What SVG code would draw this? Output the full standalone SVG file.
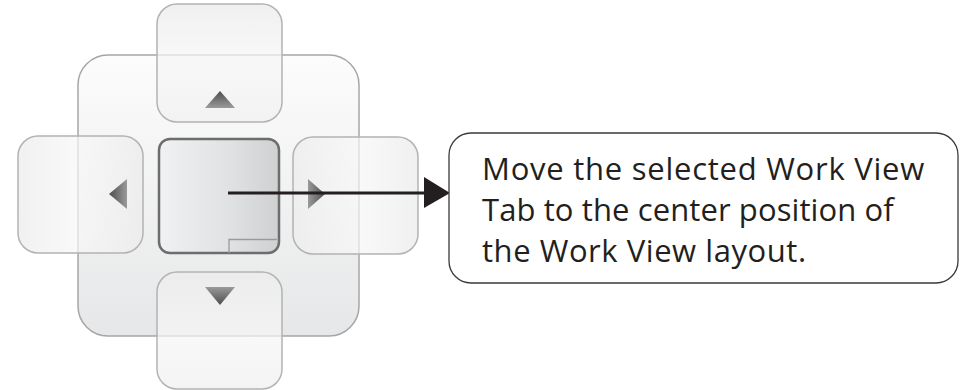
<svg xmlns="http://www.w3.org/2000/svg" width="962" height="390" viewBox="0 0 962 390">
<defs>
<linearGradient id="gBase" x1="0" y1="0" x2="0" y2="1">
<stop offset="0" stop-color="#fcfcfc"/><stop offset="1" stop-color="#e6e7e8"/>
</linearGradient>
<linearGradient id="gTileV" x1="0" y1="0" x2="0" y2="1">
<stop offset="0" stop-color="#ececec" stop-opacity="0.8"/><stop offset="0.5" stop-color="#f6f6f6" stop-opacity="0.7"/><stop offset="1" stop-color="#f1f1f1" stop-opacity="0.8"/>
</linearGradient>
<linearGradient id="gTileH" x1="0" y1="0" x2="1" y2="0">
<stop offset="0" stop-color="#ededed" stop-opacity="0.8"/><stop offset="0.5" stop-color="#f7f7f7" stop-opacity="0.7"/><stop offset="1" stop-color="#ececec" stop-opacity="0.8"/>
</linearGradient>
<linearGradient id="gCenter" x1="0" y1="0" x2="1" y2="0">
<stop offset="0" stop-color="#f0f1f2"/><stop offset="0.6" stop-color="#e0e1e3"/><stop offset="1" stop-color="#cfd0d2"/>
</linearGradient>
<linearGradient id="gTriV" x1="0" y1="0" x2="0" y2="1">
<stop offset="0" stop-color="#4d4d4d"/><stop offset="1" stop-color="#9a9a9a"/>
</linearGradient>
<linearGradient id="gTriVd" x1="0" y1="1" x2="0" y2="0">
<stop offset="0" stop-color="#4d4d4d"/><stop offset="1" stop-color="#9a9a9a"/>
</linearGradient>
<linearGradient id="gTriH" x1="0" y1="0" x2="1" y2="0">
<stop offset="0" stop-color="#4d4d4d"/><stop offset="1" stop-color="#9a9a9a"/>
</linearGradient>
<linearGradient id="gTriHr" x1="1" y1="0" x2="0" y2="0">
<stop offset="0" stop-color="#4d4d4d"/><stop offset="1" stop-color="#9a9a9a"/>
</linearGradient>
</defs>
<style>
.tile{stroke:#b3b3b3;stroke-width:1.5}
.label{font-family:"Open Sans","Liberation Sans",Arial,sans-serif;font-size:31px;fill:#231f20}
</style>
<g id="base">
<rect x="78" y="55" width="281" height="281" rx="30" fill="url(#gBase)" stroke="#a6a6a6" stroke-width="1.5"/>
</g>
<g id="tile-top">
<rect class="tile" x="157" y="4" width="125" height="118" rx="20" fill="url(#gTileV)"/>
<polygon points="220,91 235,108 205,108" fill="url(#gTriV)"/>
</g>
<g id="tile-bottom">
<rect class="tile" x="157" y="272" width="125" height="117" rx="20" fill="url(#gTileV)"/>
<polygon points="205,287 235,287 220,305" fill="url(#gTriVd)"/>
</g>
<g id="tile-left">
<rect class="tile" x="18" y="136" width="125" height="117" rx="20" fill="url(#gTileH)"/>
<polygon points="109,194 127,179 127,209" fill="url(#gTriH)"/>
</g>
<g id="tile-right">
<rect class="tile" x="293" y="137" width="125" height="117" rx="20" fill="url(#gTileH)"/>
<polygon points="325,194 308,179 308,209" fill="url(#gTriHr)"/>
</g>
<g id="center">
<rect x="159" y="139" width="120" height="114" rx="11" fill="url(#gCenter)" stroke="#6d6d6d" stroke-width="2.5"/>
<path d="M229,253 V239.5 H277" fill="none" stroke="#9a9a9a" stroke-width="1.3"/>
</g>
<g id="connectors">
<line x1="228" y1="193" x2="426" y2="193" stroke="#231f20" stroke-width="3"/>
<polygon points="424,177 450,193 424,208" fill="#231f20"/>
</g>
<g id="callout">
<rect x="449" y="133" width="509" height="150" rx="22" fill="#ffffff" stroke="#3a3a3a" stroke-width="1.3"/>
<text class="label" x="482" y="180" letter-spacing="0.75">Move the selected Work View</text>
<text class="label" x="482" y="221" letter-spacing="0.1">Tab to the center position of</text>
<text class="label" x="482" y="262" letter-spacing="0.55">the Work View layout.</text>
</g>
</svg>
